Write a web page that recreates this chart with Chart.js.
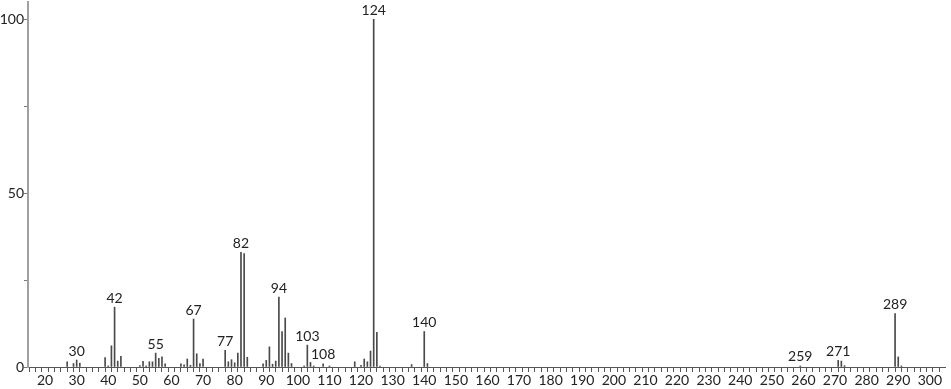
<!DOCTYPE html>
<html>
<head>
<meta charset="utf-8">
<script src="https://cdn.jsdelivr.net/npm/chart.js@4"></script>
<style>
  html, body { margin: 0; padding: 0; background: #fff; }
  #wrap { width: 951px; height: 389px; position: relative; }
</style>
</head>
<body>
<div id="wrap"><canvas id="spectrum"></canvas></div>
<script>
// m/z values and relative intensities
const mz = [27, 29, 30, 31, 39, 40, 41, 42, 43, 44,
  50, 51, 52, 53, 54, 55, 56, 57, 58, 63, 64, 65, 66, 67, 68, 69, 70,
  77, 78, 79, 80, 81, 82, 83, 84, 89, 90, 91, 92, 93, 94, 95, 96, 97, 98,
  102, 103, 104, 105, 108, 110, 118, 120, 121, 122, 123, 124, 125, 126,
  136, 140, 141, 259, 271, 272, 273, 289, 290, 291];
const intensity = [1.5, 1.0, 2.0, 1.1, 2.7, 0.3, 6.1, 17.2, 1.7, 3.1,
  0.4, 1.6, 0.3, 1.5, 1.5, 4.0, 2.5, 2.9, 0.9, 0.9, 0.6, 2.3, 0.5, 13.8, 3.8, 1.0, 2.3,
  4.8, 1.5, 2.1, 1.2, 4.0, 33.0, 32.6, 2.8, 0.9, 1.9, 5.8, 0.8, 1.7, 20.1, 10.2, 14.1, 4.0, 1.0,
  0.3, 6.3, 1.3, 0.3, 0.9, 0.3, 1.5, 0.5, 2.3, 1.5, 4.6, 100, 10.0, 0.3,
  0.7, 10.2, 1.0, 0.3, 1.9, 1.7, 0.4, 15.4, 2.9, 0.3];

// peaks that carry an m/z label
const labeledPeaks = [30, 42, 55, 67, 77, 82, 94, 103, 108, 124, 140, 259, 271, 289];

const xTickLabels = [];
for (let v = 20; v <= 300; v += 10) xTickLabels.push(v);
const yTickLabels = [0, 50, 100];

const points = mz.map((m, i) => ({ x: m, y: intensity[i] }));

const peakLabels = {
  id: "peakLabels",
  afterDatasetsDraw(chart) {
    const { ctx, scales } = chart;
    ctx.save();
    ctx.font = "14px Lato";
    ctx.fillStyle = "#222";
    ctx.textAlign = "center";
    ctx.textBaseline = "bottom";
    labeledPeaks.forEach(m => {
      const i = mz.indexOf(m);
      const x = scales.x.getPixelForValue(m);
      const y = scales.y.getPixelForValue(intensity[i]);
      ctx.fillText(String(m), x, y - 2);
    });
    ctx.restore();
  }
};

new Chart(document.getElementById("spectrum"), {
  type: "bar",
  data: {
    datasets: [{
      data: points,
      backgroundColor: "#4a4a4a",
      barThickness: 1,
      grouped: false
    }]
  },
  options: {
    responsive: true,
    maintainAspectRatio: false,
    animation: false,
    layout: { padding: { top: 2, right: 6, left: 0, bottom: 0 } },
    plugins: { legend: { display: false }, tooltip: { enabled: false } },
    scales: {
      x: {
        type: "linear",
        min: 14.6,
        max: 304.8,
        offset: false,
        afterFit(scale) { scale.height = 22; },
        border: { color: "#555", width: 1 },
        grid: { drawOnChartArea: false, tickLength: 5, color: "#555" },
        ticks: {
          stepSize: 2,
          includeBounds: false,
          autoSkip: false,
          maxRotation: 0,
          padding: 0,
          color: "#222",
          font: { family: "Lato", size: 14 },
          callback: v => xTickLabels.includes(v) ? String(v) : ""
        }
      },
      y: {
        min: 0,
        max: 105,
        afterFit(scale) {
          scale.width = 28;
          scale.paddingTop = 0;
          scale.paddingBottom = 0;
        },
        border: { color: "#a0a0a0", width: 2 },
        grid: { drawOnChartArea: false, tickLength: 4, color: "#777" },
        ticks: {
          stepSize: 25,
          includeBounds: false,
          padding: 0,
          color: "#222",
          font: { family: "Lato", size: 14 },
          callback: v => yTickLabels.includes(v) ? String(v) : ""
        }
      }
    }
  },
  plugins: [peakLabels]
});
</script>
</body>
</html>
